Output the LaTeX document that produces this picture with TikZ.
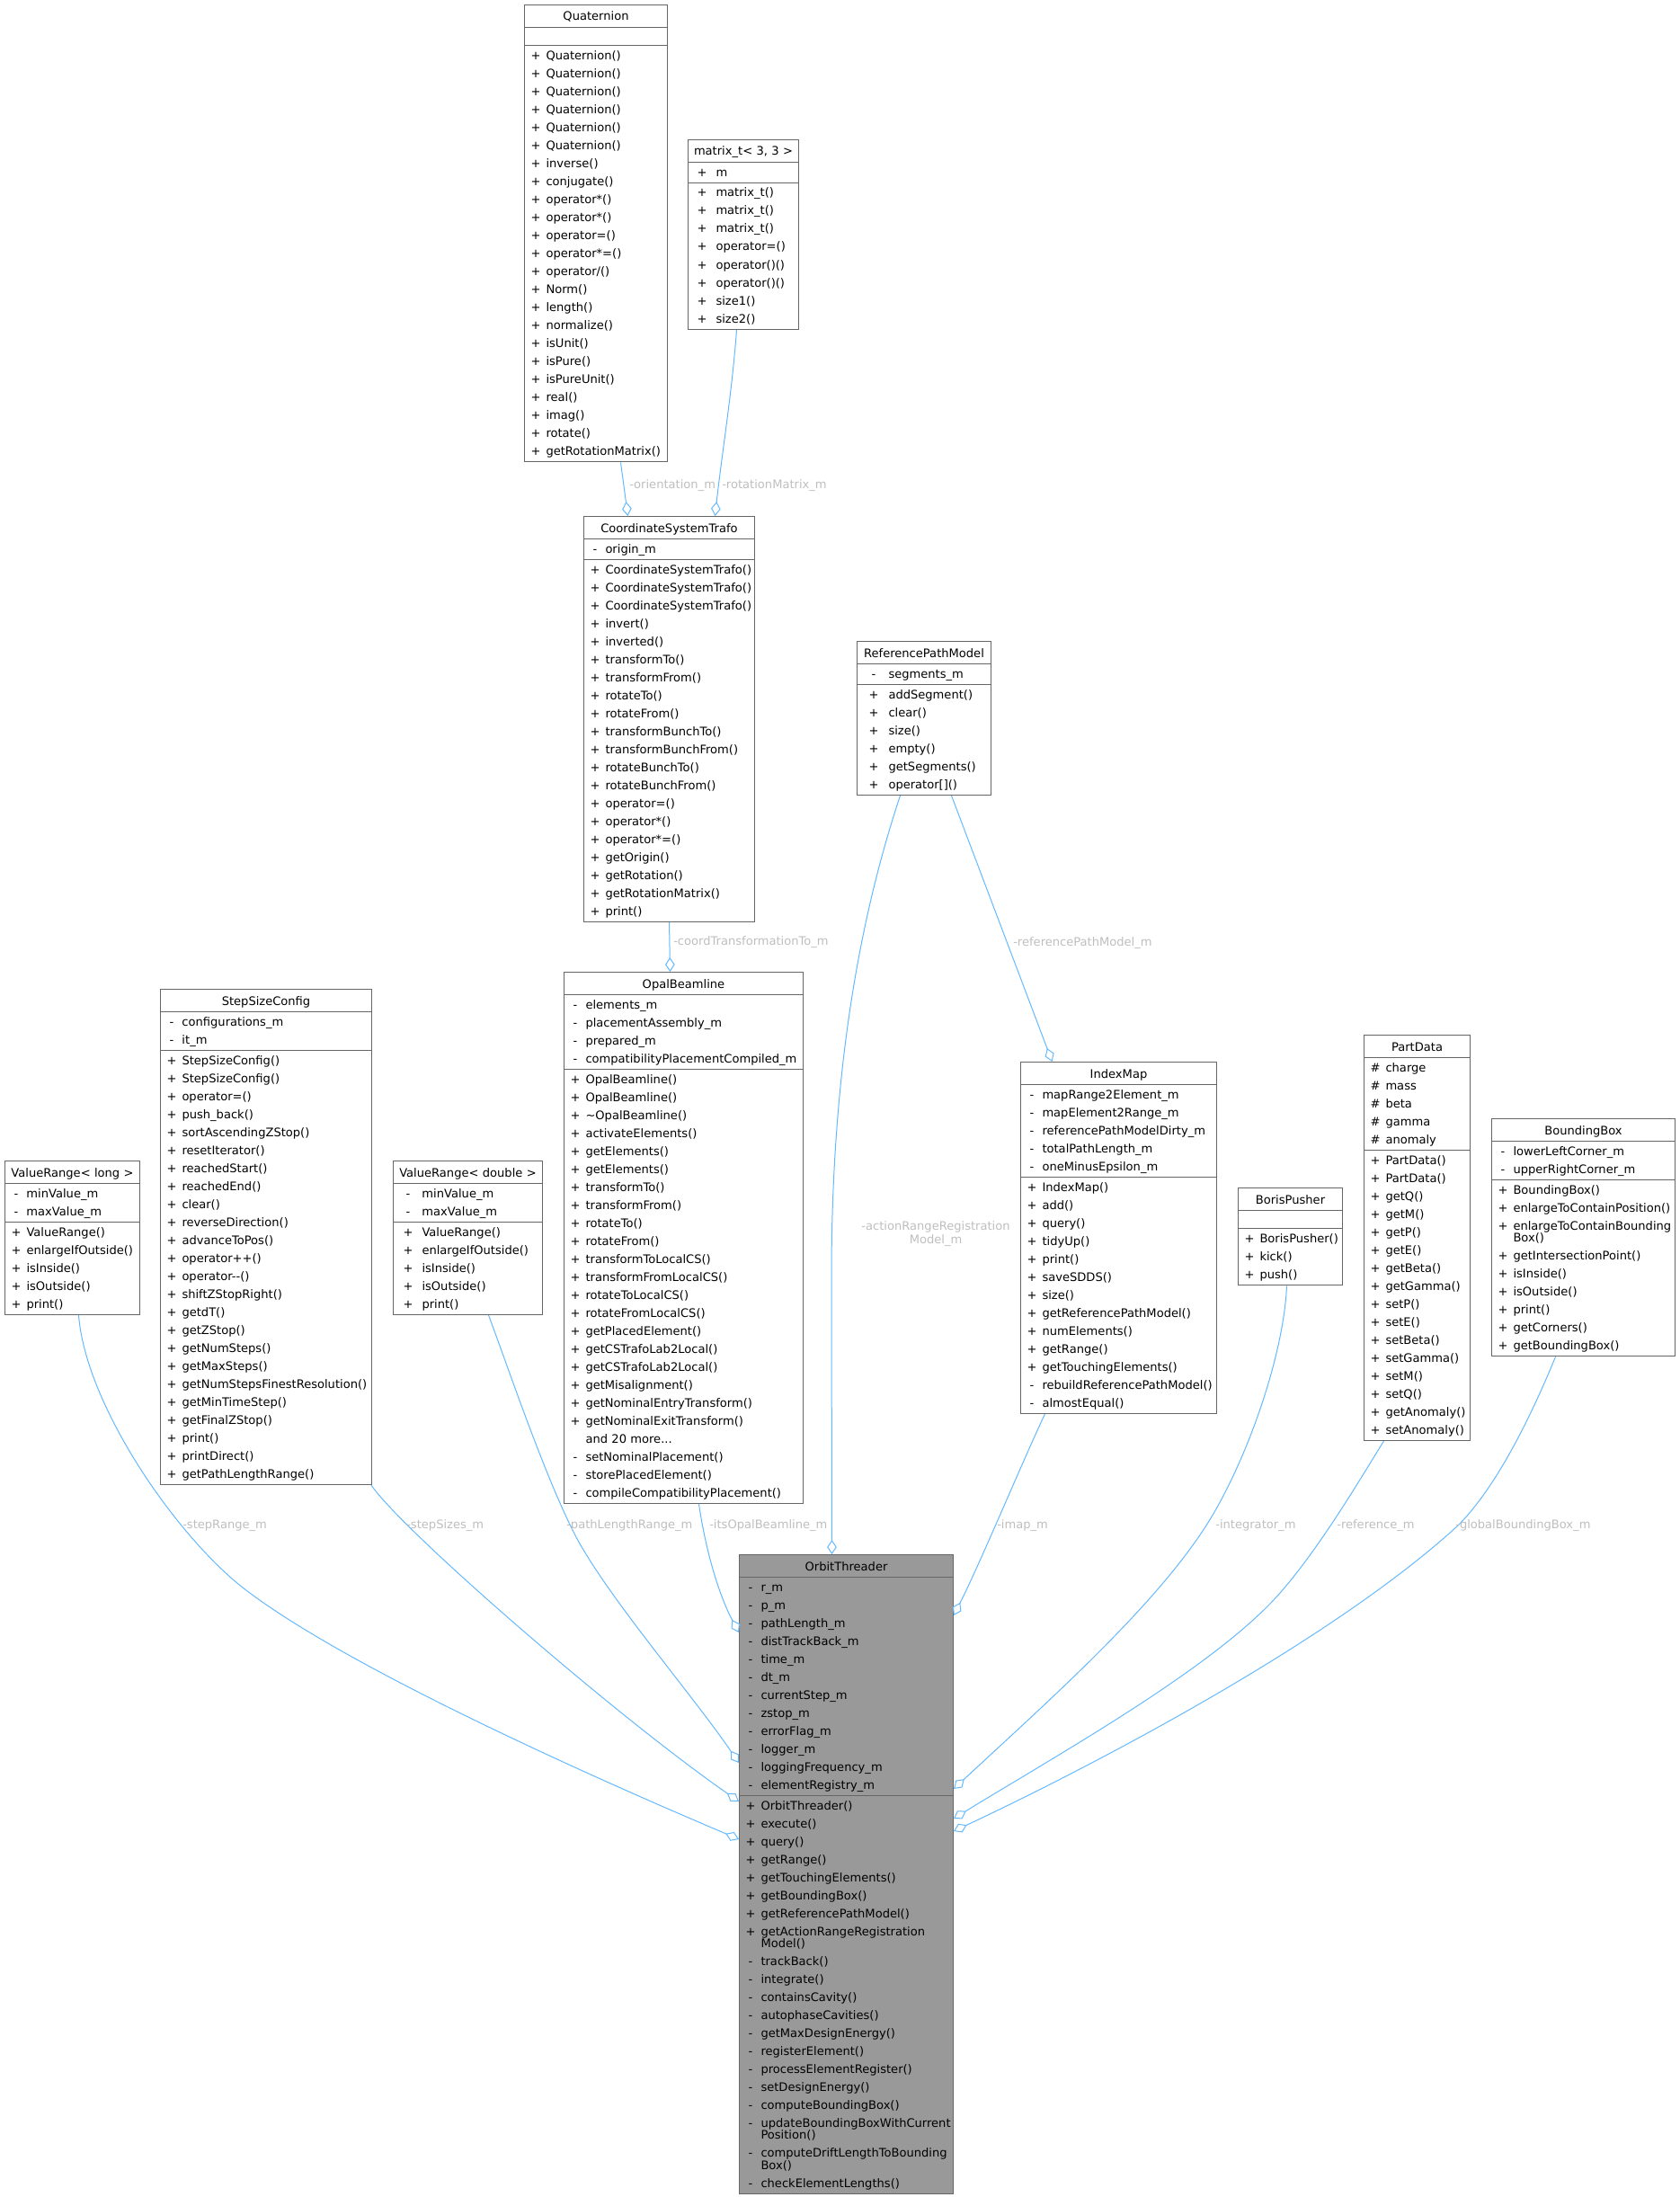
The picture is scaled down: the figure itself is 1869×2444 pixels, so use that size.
\documentclass[tikz,border=0pt]{standalone}
\usepackage{fontspec}
\setmainfont{DejaVu Sans}
\usetikzlibrary{shapes.multipart, arrows.meta, calc}

\definecolor{edgeblue}{HTML}{63B8FF}
\definecolor{boxgray}{HTML}{666666}
\definecolor{labelgray}{HTML}{BEBEBE}
\definecolor{focusgray}{HTML}{999999}

\hyphenpenalty=10000
\exhyphenpenalty=10000

% one pixel of the class graph
\newdimen\pxu \pxu=0.75pt
\def\symc{12.5}\def\namex{24}
% member line: visibility symbol and name
\newcommand\mem[2]{\strut\kern\dimexpr\symc\pxu-6\pxu\relax\makebox[12\pxu]{#1}\kern\dimexpr\namex\pxu-\symc\pxu-6\pxu\relax #2}
\newcommand\more[1]{\strut\kern\namex\pxu #1}
\newcommand\wrapped[1]{\\[-5pt]\strut\kern\namex\pxu #1}
\newcommand\ttl[1]{\rule[-4.5pt]{0pt}{16.5pt}\hfill #1\hfill\null}
\newcommand\noattr{\rule{0pt}{13pt}}

\begin{document}
\begin{tikzpicture}[x=0.75pt, y=-0.75pt,
    umlclass/.style={rectangle split, rectangle split parts=3, draw=boxgray, line width=0.75pt,
        fill=white, inner xsep=0pt, inner ysep=0.75pt, anchor=north west, text width=#1,
        font=\fontsize{9.8}{15}\selectfont},
    cols/.code 2 args={\def\symc{#1}\def\namex{#2}},
    assoc/.style={draw=edgeblue, line width=0.75pt, -{Diamond[open, length=12pt, width=8pt]}},
    role/.style={text=labelgray, inner sep=0pt, anchor=west, font=\fontsize{9.8}{11.25}\selectfont}]

    \useasboundingbox (0,0) rectangle (1869,2444);

    % classes
    \node[umlclass=119.25pt] (Quaternion) at (583,5) {\ttl{Quaternion}
        \nodepart{two}\noattr
        \nodepart{three}\mem{+}{Quaternion()}\\
        \mem{+}{Quaternion()}\\
        \mem{+}{Quaternion()}\\
        \mem{+}{Quaternion()}\\
        \mem{+}{Quaternion()}\\
        \mem{+}{Quaternion()}\\
        \mem{+}{inverse()}\\
        \mem{+}{conjugate()}\\
        \mem{+}{operator*()}\\
        \mem{+}{operator*()}\\
        \mem{+}{operator=()}\\
        \mem{+}{operator*=()}\\
        \mem{+}{operator/()}\\
        \mem{+}{Norm()}\\
        \mem{+}{length()}\\
        \mem{+}{normalize()}\\
        \mem{+}{isUnit()}\\
        \mem{+}{isPure()}\\
        \mem{+}{isPureUnit()}\\
        \mem{+}{real()}\\
        \mem{+}{imag()}\\
        \mem{+}{rotate()}\\
        \mem{+}{getRotationMatrix()}};

    \node[umlclass=92.25pt, cols={15.5}{31}] (MatrixT) at (765,155) {\ttl{matrix\_t< 3, 3 >}
        \nodepart{two}\mem{+}{m}
        \nodepart{three}\mem{+}{matrix\_t()}\\
        \mem{+}{matrix\_t()}\\
        \mem{+}{matrix\_t()}\\
        \mem{+}{operator=()}\\
        \mem{+}{operator()()}\\
        \mem{+}{operator()()}\\
        \mem{+}{size1()}\\
        \mem{+}{size2()}};

    \node[umlclass=142.5pt] (CoordinateSystemTrafo) at (649,574) {\ttl{CoordinateSystemTrafo}
        \nodepart{two}\mem{-}{origin\_m}
        \nodepart{three}\mem{+}{CoordinateSystemTrafo()}\\
        \mem{+}{CoordinateSystemTrafo()}\\
        \mem{+}{CoordinateSystemTrafo()}\\
        \mem{+}{invert()}\\
        \mem{+}{inverted()}\\
        \mem{+}{transformTo()}\\
        \mem{+}{transformFrom()}\\
        \mem{+}{rotateTo()}\\
        \mem{+}{rotateFrom()}\\
        \mem{+}{transformBunchTo()}\\
        \mem{+}{transformBunchFrom()}\\
        \mem{+}{rotateBunchTo()}\\
        \mem{+}{rotateBunchFrom()}\\
        \mem{+}{operator=()}\\
        \mem{+}{operator*()}\\
        \mem{+}{operator*=()}\\
        \mem{+}{getOrigin()}\\
        \mem{+}{getRotation()}\\
        \mem{+}{getRotationMatrix()}\\
        \mem{+}{print()}};

    \node[umlclass=111.75pt, cols={18.5}{35}] (ReferencePathModel) at (953,713) {\ttl{ReferencePathModel}
        \nodepart{two}\mem{-}{segments\_m}
        \nodepart{three}\mem{+}{addSegment()}\\
        \mem{+}{clear()}\\
        \mem{+}{size()}\\
        \mem{+}{empty()}\\
        \mem{+}{getSegments()}\\
        \mem{+}{operator[]()}};

    \node[umlclass=112.5pt] (ValueRangeLong) at (5,1291) {\ttl{ValueRange< long >}
        \nodepart{two}\mem{-}{minValue\_m}\\
        \mem{-}{maxValue\_m}
        \nodepart{three}\mem{+}{ValueRange()}\\
        \mem{+}{enlargeIfOutside()}\\
        \mem{+}{isInside()}\\
        \mem{+}{isOutside()}\\
        \mem{+}{print()}};

    \node[umlclass=176.25pt] (StepSizeConfig) at (178,1100) {\ttl{StepSizeConfig}
        \nodepart{two}\mem{-}{configurations\_m}\\
        \mem{-}{it\_m}
        \nodepart{three}\mem{+}{StepSizeConfig()}\\
        \mem{+}{StepSizeConfig()}\\
        \mem{+}{operator=()}\\
        \mem{+}{push\_back()}\\
        \mem{+}{sortAscendingZStop()}\\
        \mem{+}{resetIterator()}\\
        \mem{+}{reachedStart()}\\
        \mem{+}{reachedEnd()}\\
        \mem{+}{clear()}\\
        \mem{+}{reverseDirection()}\\
        \mem{+}{advanceToPos()}\\
        \mem{+}{operator++()}\\
        \mem{+}{operator-{}-()}\\
        \mem{+}{shiftZStopRight()}\\
        \mem{+}{getdT()}\\
        \mem{+}{getZStop()}\\
        \mem{+}{getNumSteps()}\\
        \mem{+}{getMaxSteps()}\\
        \mem{+}{getNumStepsFinestResolution()}\\
        \mem{+}{getMinTimeStep()}\\
        \mem{+}{getFinalZStop()}\\
        \mem{+}{print()}\\
        \mem{+}{printDirect()}\\
        \mem{+}{getPathLengthRange()}};

    \node[umlclass=124.5pt, cols={16.5}{32}] (ValueRangeDouble) at (437,1291) {\ttl{ValueRange< double >}
        \nodepart{two}\mem{-}{minValue\_m}\\
        \mem{-}{maxValue\_m}
        \nodepart{three}\mem{+}{ValueRange()}\\
        \mem{+}{enlargeIfOutside()}\\
        \mem{+}{isInside()}\\
        \mem{+}{isOutside()}\\
        \mem{+}{print()}};

    \node[umlclass=199.5pt] (OpalBeamline) at (627,1081) {\ttl{OpalBeamline}
        \nodepart{two}\mem{-}{elements\_m}\\
        \mem{-}{placementAssembly\_m}\\
        \mem{-}{prepared\_m}\\
        \mem{-}{compatibilityPlacementCompiled\_m}
        \nodepart{three}\mem{+}{OpalBeamline()}\\
        \mem{+}{OpalBeamline()}\\
        \mem{+}{\textasciitilde OpalBeamline()}\\
        \mem{+}{activateElements()}\\
        \mem{+}{getElements()}\\
        \mem{+}{getElements()}\\
        \mem{+}{transformTo()}\\
        \mem{+}{transformFrom()}\\
        \mem{+}{rotateTo()}\\
        \mem{+}{rotateFrom()}\\
        \mem{+}{transformToLocalCS()}\\
        \mem{+}{transformFromLocalCS()}\\
        \mem{+}{rotateToLocalCS()}\\
        \mem{+}{rotateFromLocalCS()}\\
        \mem{+}{getPlacedElement()}\\
        \mem{+}{getCSTrafoLab2Local()}\\
        \mem{+}{getCSTrafoLab2Local()}\\
        \mem{+}{getMisalignment()}\\
        \mem{+}{getNominalEntryTransform()}\\
        \mem{+}{getNominalExitTransform()}\\
        \more{and 20 more...}\\
        \mem{-}{setNominalPlacement()}\\
        \mem{-}{storePlacedElement()}\\
        \mem{-}{compileCompatibilityPlacement()}};

    \node[umlclass=163.5pt] (IndexMap) at (1135,1181) {\ttl{IndexMap}
        \nodepart{two}\mem{-}{mapRange2Element\_m}\\
        \mem{-}{mapElement2Range\_m}\\
        \mem{-}{referencePathModelDirty\_m}\\
        \mem{-}{totalPathLength\_m}\\
        \mem{-}{oneMinusEpsilon\_m}
        \nodepart{three}\mem{+}{IndexMap()}\\
        \mem{+}{add()}\\
        \mem{+}{query()}\\
        \mem{+}{tidyUp()}\\
        \mem{+}{print()}\\
        \mem{+}{saveSDDS()}\\
        \mem{+}{size()}\\
        \mem{+}{getReferencePathModel()}\\
        \mem{+}{numElements()}\\
        \mem{+}{getRange()}\\
        \mem{+}{getTouchingElements()}\\
        \mem{-}{rebuildReferencePathModel()}\\
        \mem{-}{almostEqual()}};

    \node[umlclass=87pt] (BorisPusher) at (1377,1321) {\ttl{BorisPusher}
        \nodepart{two}\noattr
        \nodepart{three}\mem{+}{BorisPusher()}\\
        \mem{+}{kick()}\\
        \mem{+}{push()}};

    \node[umlclass=88.5pt] (PartData) at (1517,1151) {\ttl{PartData}
        \nodepart{two}\mem{\#}{charge}\\
        \mem{\#}{mass}\\
        \mem{\#}{beta}\\
        \mem{\#}{gamma}\\
        \mem{\#}{anomaly}
        \nodepart{three}\mem{+}{PartData()}\\
        \mem{+}{PartData()}\\
        \mem{+}{getQ()}\\
        \mem{+}{getM()}\\
        \mem{+}{getP()}\\
        \mem{+}{getE()}\\
        \mem{+}{getBeta()}\\
        \mem{+}{getGamma()}\\
        \mem{+}{setP()}\\
        \mem{+}{setE()}\\
        \mem{+}{setBeta()}\\
        \mem{+}{setGamma()}\\
        \mem{+}{setM()}\\
        \mem{+}{setQ()}\\
        \mem{+}{getAnomaly()}\\
        \mem{+}{setAnomaly()}};

    \node[umlclass=153pt] (BoundingBox) at (1659,1244) {\ttl{BoundingBox}
        \nodepart{two}\mem{-}{lowerLeftCorner\_m}\\
        \mem{-}{upperRightCorner\_m}
        \nodepart{three}\mem{+}{BoundingBox()}\\
        \mem{+}{enlargeToContainPosition()}\\
        \mem{+}{enlargeToContainBounding}\wrapped{Box()}\\
        \mem{+}{getIntersectionPoint()}\\
        \mem{+}{isInside()}\\
        \mem{+}{isOutside()}\\
        \mem{+}{print()}\\
        \mem{+}{getCorners()}\\
        \mem{+}{getBoundingBox()}};

    \node[umlclass=178.5pt, fill=focusgray] (OrbitThreader) at (822,1729) {\ttl{OrbitThreader}
        \nodepart{two}\mem{-}{r\_m}\\
        \mem{-}{p\_m}\\
        \mem{-}{pathLength\_m}\\
        \mem{-}{distTrackBack\_m}\\
        \mem{-}{time\_m}\\
        \mem{-}{dt\_m}\\
        \mem{-}{currentStep\_m}\\
        \mem{-}{zstop\_m}\\
        \mem{-}{errorFlag\_m}\\
        \mem{-}{logger\_m}\\
        \mem{-}{loggingFrequency\_m}\\
        \mem{-}{elementRegistry\_m}
        \nodepart{three}\mem{+}{OrbitThreader()}\\
        \mem{+}{execute()}\\
        \mem{+}{query()}\\
        \mem{+}{getRange()}\\
        \mem{+}{getTouchingElements()}\\
        \mem{+}{getBoundingBox()}\\
        \mem{+}{getReferencePathModel()}\\
        \mem{+}{getActionRangeRegistration}\wrapped{Model()}\\
        \mem{-}{trackBack()}\\
        \mem{-}{integrate()}\\
        \mem{-}{containsCavity()}\\
        \mem{-}{autophaseCavities()}\\
        \mem{-}{getMaxDesignEnergy()}\\
        \mem{-}{registerElement()}\\
        \mem{-}{processElementRegister()}\\
        \mem{-}{setDesignEnergy()}\\
        \mem{-}{computeBoundingBox()}\\
        \mem{-}{updateBoundingBoxWithCurrent}\wrapped{Position()}\\
        \mem{-}{computeDriftLengthToBounding}\wrapped{Box()}\\
        \mem{-}{checkElementLengths()}};

    % aggregations
    \draw[assoc] ($(Quaternion.south)+(27.5,0)$) -- ($(CoordinateSystemTrafo.north)+(-46,0)$);
    \draw[assoc] ($(MatrixT.south)+(-7.5,0)$) .. controls (814,440) and (803,505) .. ($(CoordinateSystemTrafo.north)+(51,0)$);
    \draw[assoc] (CoordinateSystemTrafo.south) -- ($(OpalBeamline.north)+(-15,0)$);
    \draw[assoc] ($(ReferencePathModel.south)+(30.5,0)$) -- ($(IndexMap.north)+(-74,0)$);
    \draw[assoc] ($(ReferencePathModel.south)+(-26.5,0)$) .. controls (960,1010) and (925,1180) .. (925,1420) -- ($(OrbitThreader.north)+(-16,0)$);
    \draw[assoc] ($(OpalBeamline.south)+(17,0)$) .. controls (785,1725) and (800,1775) .. ($(OrbitThreader.north west)+(0,87)$);
    \draw[assoc] ($(ValueRangeDouble.south)+(23,0)$) .. controls (565,1520) and (605,1640) .. (640,1708)
        .. controls (675,1775) and (770,1885) .. ($(OrbitThreader.north west)+(0,232)$);
    \draw[assoc] ($(StepSizeConfig.south east)+(-1,0)$) .. controls (445,1700) and (680,1905) .. ($(OrbitThreader.north west)+(0,275)$);
    \draw[assoc] ($(ValueRangeLong.south)+(7,0)$) .. controls (95,1560) and (190,1700) .. (265,1762)
        .. controls (380,1855) and (690,1990) .. ($(OrbitThreader.north west)+(0,317)$);
    \draw[assoc] ($(IndexMap.south)+(-82,0)$) .. controls (1140,1620) and (1090,1740) .. ($(OrbitThreader.north east)+(0,68)$);
    \draw[assoc] ($(BorisPusher.south)+(-4,0)$) .. controls (1428,1510) and (1385,1631) .. (1340,1700)
        .. controls (1280,1792) and (1162,1896) .. ($(OrbitThreader.north east)+(0,261)$);
    \draw[assoc] ($(PartData.south)+(-37,0)$) .. controls (1515,1642) and (1460,1737) .. (1410,1787)
        .. controls (1330,1867) and (1168,1957) .. ($(OrbitThreader.north east)+(0,294)$);
    \draw[assoc] ($(BoundingBox.south)+(-31,0)$) .. controls (1710,1559) and (1670,1649) .. (1622,1697)
        .. controls (1478,1829) and (1204,1970) .. ($(OrbitThreader.north east)+(0,308)$);

    % role names
    \node[role] (OrientationLabel) at (700,540) {-orientation\_m};
    \node[role] (RotationMatrixLabel) at (803,540) {-rotationMatrix\_m};
    \node[role] (CoordTransformationLabel) at (749,1048) {-coordTransformationTo\_m};
    \node[role] (ReferencePathModelLabel) at (1127,1049) {-referencePathModel\_m};
    \node[role, anchor=center, align=center] (ActionRangeLabel) at (1041,1373) {-actionRangeRegistration\\Model\_m};
    \node[role] (StepRangeLabel) at (203,1697) {-stepRange\_m};
    \node[role] (StepSizesLabel) at (452,1697) {-stepSizes\_m};
    \node[role] (PathLengthRangeLabel) at (630,1697) {-pathLengthRange\_m};
    \node[role] (ItsOpalBeamlineLabel) at (789,1697) {-itsOpalBeamline\_m};
    \node[role] (ImapLabel) at (1109,1697) {-imap\_m};
    \node[role] (IntegratorLabel) at (1352,1697) {-integrator\_m};
    \node[role] (ReferenceLabel) at (1487,1697) {-reference\_m};
    \node[role] (GlobalBoundingBoxLabel) at (1619,1697) {-globalBoundingBox\_m};
\end{tikzpicture}
\end{document}
